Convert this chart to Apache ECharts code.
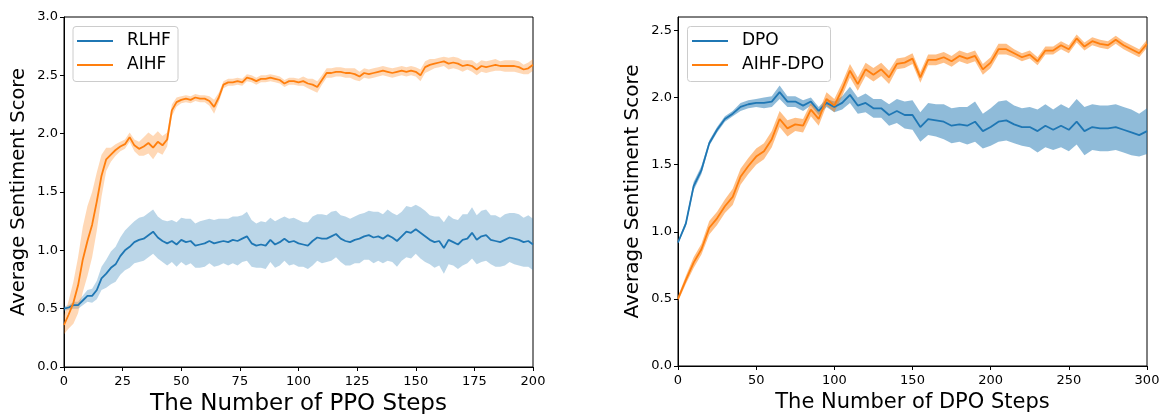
<!DOCTYPE html>
<html>
<head>
<meta charset="utf-8">
<script src="https://cdn.jsdelivr.net/npm/echarts@6/dist/echarts.min.js"></script>
<style>
html,body{margin:0;padding:0;background:#fff;}
#chart{width:1161px;height:414px;}
</style>
</head>
<body>
<div id="chart"></div>
<script>
// ---------- data ----------
const ppoSteps = Array.from({length: 101}, (_, i) => i * 2);
const dpoSteps = Array.from({length: 61}, (_, i) => i * 5);

const rlhfMean = [0.50,0.51,0.53,0.53,0.57,0.61,0.61,0.66,0.76,0.80,
 0.85,0.88,0.95,1.00,1.03,1.07,1.09,1.10,1.13,1.16,
 1.11,1.08,1.06,1.08,1.05,1.09,1.07,1.08,1.04,1.05,
 1.06,1.08,1.06,1.07,1.08,1.07,1.09,1.08,1.10,1.12,
 1.06,1.04,1.05,1.04,1.09,1.05,1.07,1.10,1.07,1.08,
 1.06,1.05,1.04,1.08,1.11,1.10,1.10,1.12,1.14,1.10,
 1.08,1.07,1.09,1.10,1.12,1.13,1.11,1.12,1.10,1.13,
 1.11,1.08,1.12,1.16,1.15,1.18,1.15,1.12,1.09,1.07,
 1.08,1.02,1.09,1.07,1.05,1.09,1.10,1.15,1.09,1.12,
 1.13,1.09,1.08,1.07,1.09,1.11,1.10,1.09,1.07,1.08,
 1.05];
const rlhfStd = [0.02,0.02,0.03,0.03,0.04,0.05,0.06,0.08,0.10,0.12,
 0.14,0.15,0.16,0.17,0.18,0.18,0.19,0.19,0.19,0.19,
 0.18,0.18,0.19,0.18,0.19,0.19,0.20,0.19,0.19,0.20,
 0.20,0.19,0.20,0.20,0.19,0.20,0.20,0.21,0.20,0.21,
 0.20,0.19,0.20,0.20,0.19,0.20,0.20,0.19,0.20,0.20,
 0.20,0.19,0.20,0.21,0.20,0.21,0.20,0.21,0.20,0.20,
 0.21,0.20,0.20,0.21,0.20,0.21,0.22,0.21,0.21,0.22,
 0.21,0.22,0.21,0.22,0.22,0.21,0.22,0.22,0.21,0.22,
 0.21,0.22,0.21,0.20,0.21,0.22,0.21,0.22,0.21,0.22,
 0.22,0.21,0.22,0.21,0.22,0.21,0.22,0.22,0.21,0.22,
 0.22];
const aihfMean = [0.36,0.45,0.55,0.70,0.92,1.08,1.22,1.42,1.64,1.78,
 1.82,1.86,1.89,1.91,1.97,1.90,1.87,1.89,1.92,1.88,
 1.93,1.90,1.95,2.20,2.27,2.29,2.30,2.29,2.31,2.30,
 2.30,2.28,2.23,2.31,2.42,2.44,2.44,2.45,2.44,2.48,
 2.47,2.45,2.47,2.47,2.48,2.47,2.46,2.43,2.45,2.45,
 2.44,2.45,2.43,2.42,2.40,2.46,2.52,2.52,2.53,2.53,
 2.52,2.52,2.51,2.49,2.52,2.51,2.52,2.53,2.54,2.53,
 2.52,2.53,2.54,2.53,2.54,2.53,2.50,2.57,2.59,2.60,
 2.61,2.62,2.60,2.61,2.60,2.58,2.59,2.58,2.55,2.58,
 2.57,2.58,2.59,2.58,2.58,2.58,2.58,2.57,2.55,2.56,
 2.59];
const aihfStd = [0.08,0.12,0.18,0.24,0.28,0.30,0.28,0.25,0.18,0.10,
 0.06,0.05,0.04,0.04,0.04,0.05,0.06,0.08,0.09,0.10,
 0.09,0.08,0.06,0.05,0.04,0.03,0.03,0.03,0.03,0.03,
 0.03,0.04,0.06,0.04,0.03,0.03,0.03,0.03,0.03,0.03,
 0.03,0.03,0.03,0.03,0.03,0.03,0.03,0.03,0.03,0.03,
 0.03,0.04,0.04,0.05,0.05,0.04,0.04,0.04,0.04,0.04,
 0.04,0.04,0.05,0.04,0.04,0.04,0.04,0.04,0.04,0.04,
 0.04,0.04,0.04,0.04,0.04,0.04,0.05,0.05,0.05,0.04,
 0.04,0.04,0.05,0.05,0.05,0.05,0.04,0.05,0.05,0.05,
 0.05,0.05,0.05,0.04,0.05,0.05,0.05,0.05,0.04,0.05,
 0.05];

const dpoMean = [0.92,1.06,1.34,1.46,1.66,1.76,1.84,1.88,1.93,1.95,
 1.96,1.96,1.97,2.04,1.97,1.97,1.94,1.97,1.90,1.96,
 1.93,1.96,2.02,1.94,1.96,1.92,1.92,1.87,1.90,1.87,
 1.87,1.78,1.84,1.83,1.82,1.79,1.80,1.79,1.82,1.75,
 1.78,1.82,1.83,1.80,1.78,1.78,1.75,1.79,1.76,1.79,
 1.76,1.82,1.75,1.78,1.77,1.77,1.78,1.76,1.74,1.72,
 1.75];
const dpoStd = [0.01,0.02,0.03,0.03,0.02,0.02,0.02,0.02,0.03,0.03,
 0.03,0.04,0.04,0.05,0.04,0.04,0.04,0.03,0.03,0.03,
 0.04,0.05,0.06,0.06,0.07,0.07,0.07,0.08,0.09,0.10,
 0.11,0.11,0.12,0.12,0.13,0.13,0.13,0.14,0.15,0.13,
 0.14,0.15,0.15,0.14,0.14,0.15,0.16,0.16,0.15,0.16,
 0.16,0.17,0.18,0.17,0.17,0.17,0.17,0.17,0.17,0.16,
 0.17];
const aihfDpoMean = [0.50,0.64,0.77,0.87,1.03,1.10,1.19,1.26,1.41,1.49,
 1.56,1.60,1.69,1.84,1.77,1.80,1.79,1.91,1.84,1.99,
 1.94,2.06,2.20,2.10,2.21,2.17,2.21,2.15,2.25,2.26,
 2.29,2.15,2.28,2.28,2.30,2.27,2.31,2.29,2.31,2.21,
 2.26,2.36,2.36,2.33,2.30,2.32,2.27,2.35,2.35,2.39,
 2.36,2.44,2.38,2.42,2.40,2.39,2.43,2.39,2.36,2.33,
 2.40];
const aihfDpoStd = [0.02,0.03,0.04,0.04,0.05,0.05,0.05,0.06,0.06,0.06,
 0.06,0.06,0.06,0.06,0.06,0.05,0.05,0.05,0.05,0.05,
 0.05,0.05,0.05,0.05,0.05,0.05,0.05,0.05,0.04,0.04,
 0.04,0.04,0.04,0.04,0.04,0.04,0.04,0.04,0.04,0.04,
 0.04,0.04,0.04,0.03,0.03,0.03,0.03,0.03,0.03,0.03,
 0.03,0.03,0.03,0.03,0.03,0.03,0.03,0.03,0.03,0.03,
 0.03];

const leftYTicks = [0, 0.5, 1.0, 1.5, 2.0, 2.5, 3.0];
const rightYTicks = [0, 0.5, 1.0, 1.5, 2.0, 2.5];

// ---------- chart ----------
const BLUE = '#1f77b4', ORANGE = '#ff7f0e';
const FONT = 'DejaVu Sans';
const chart = echarts.init(document.getElementById('chart'), null, {renderer: 'canvas'});

function lineSeries(name, xs, ys, color, idx) {
  return {
    name, type: 'line', xAxisIndex: idx, yAxisIndex: idx,
    data: xs.map((x, i) => [x, ys[i]]),
    symbol: 'none', showSymbol: false,
    lineStyle: {color, width: 1.8}, itemStyle: {color},
    z: 3, animation: false
  };
}
function bandSeries(name, xs, mean, std, fill, idx) {
  return {
    name, type: 'custom', xAxisIndex: idx, yAxisIndex: idx,
    data: [[xs[0], mean[0]]], silent: true, z: 2, animation: false,
    renderItem: function (params, api) {
      const pts = [];
      for (let i = 0; i < xs.length; i++) pts.push(api.coord([xs[i], mean[i] + std[i]]));
      for (let i = xs.length - 1; i >= 0; i--) pts.push(api.coord([xs[i], mean[i] - std[i]]));
      return {type: 'polygon', shape: {points: pts}, style: {fill: fill}};
    }
  };
}

const axisLineStyle = {lineStyle: {color: '#000', width: 1}};
const tickStyle = {show: true, inside: false, length: 4, lineStyle: {color: '#000', width: 1}};
const labelStyle = {color: '#000', fontFamily: FONT, fontSize: 13};

function xAxis(idx, max, interval, title, titleSize) {
  return {
    type: 'value', gridIndex: idx, min: 0, max, interval,
    name: title, nameLocation: 'middle', nameGap: 25,
    nameTextStyle: {color: '#000', fontFamily: FONT, fontSize: titleSize},
    axisLine: axisLineStyle, axisTick: tickStyle,
    axisLabel: Object.assign({margin: 8}, labelStyle),
    splitLine: {show: false}
  };
}
function yAxis(idx, max, ticks, titleSize) {
  return {
    type: 'value', gridIndex: idx, min: 0, max,
    name: 'Average Sentiment Score', nameLocation: 'middle', nameGap: 35,
    nameTextStyle: {color: '#000', fontFamily: FONT, fontSize: titleSize},
    axisLine: axisLineStyle,
    axisTick: Object.assign({customValues: ticks}, tickStyle),
    axisLabel: Object.assign({margin: 6, customValues: ticks, formatter: v => v.toFixed(1)}, labelStyle),
    splitLine: {show: false}
  };
}
function legend(left, names) {
  return {
    left, top: 26, orient: 'vertical', z: 6,
    data: names.map(n => ({name: n})),
    icon: 'rect', itemWidth: 36, itemHeight: 2, itemGap: 4,
    backgroundColor: 'transparent', borderWidth: 0,
    padding: [5, 7, 6, 5],
    textStyle: {color: '#000', fontFamily: FONT, fontSize: 17, lineHeight: 20, padding: [0, 0, 0, 9]},
    selectedMode: false
  };
}
function legendFrame(x, w) {
  return {
    type: 'rect', left: x, top: 26, z: 5, silent: true,
    shape: {width: w, height: 55, r: 3},
    style: {fill: 'rgba(255,255,255,0.8)', stroke: '#cccccc', lineWidth: 1}
  };
}

const option = {
  animation: false,
  backgroundColor: '#fff',
  grid: [
    {left: 64, top: 17, width: 469, height: 350, outerBoundsMode: 'none', containLabel: false, show: true, borderColor: '#000', borderWidth: 1, backgroundColor: 'transparent'},
    {left: 678, top: 17, width: 469, height: 349, outerBoundsMode: 'none', containLabel: false, show: true, borderColor: '#000', borderWidth: 1, backgroundColor: 'transparent'}
  ],
  graphic: [legendFrame(72.5, 105), legendFrame(687, 143)],
  xAxis: [
    xAxis(0, 200, 25, 'The Number of PPO Steps', 23),
    xAxis(1, 300, 50, 'The Number of DPO Steps', 21)
  ],
  yAxis: [
    yAxis(0, 3.0, leftYTicks, 19.5),
    yAxis(1, 2.6, rightYTicks, 20)
  ],
  legend: [legend(72, ['RLHF', 'AIHF']), legend(687, ['DPO', 'AIHF-DPO'])],
  series: [
    bandSeries('RLHF band', ppoSteps, rlhfMean, rlhfStd, 'rgba(31,119,180,0.3)', 0),
    lineSeries('RLHF', ppoSteps, rlhfMean, BLUE, 0),
    bandSeries('AIHF band', ppoSteps, aihfMean, aihfStd, 'rgba(255,127,14,0.3)', 0),
    lineSeries('AIHF', ppoSteps, aihfMean, ORANGE, 0),
    bandSeries('DPO band', dpoSteps, dpoMean, dpoStd, 'rgba(31,119,180,0.5)', 1),
    lineSeries('DPO', dpoSteps, dpoMean, BLUE, 1),
    bandSeries('AIHF-DPO band', dpoSteps, aihfDpoMean, aihfDpoStd, 'rgba(255,127,14,0.5)', 1),
    lineSeries('AIHF-DPO', dpoSteps, aihfDpoMean, ORANGE, 1)
  ]
};
chart.setOption(option);
</script>
</body>
</html>
